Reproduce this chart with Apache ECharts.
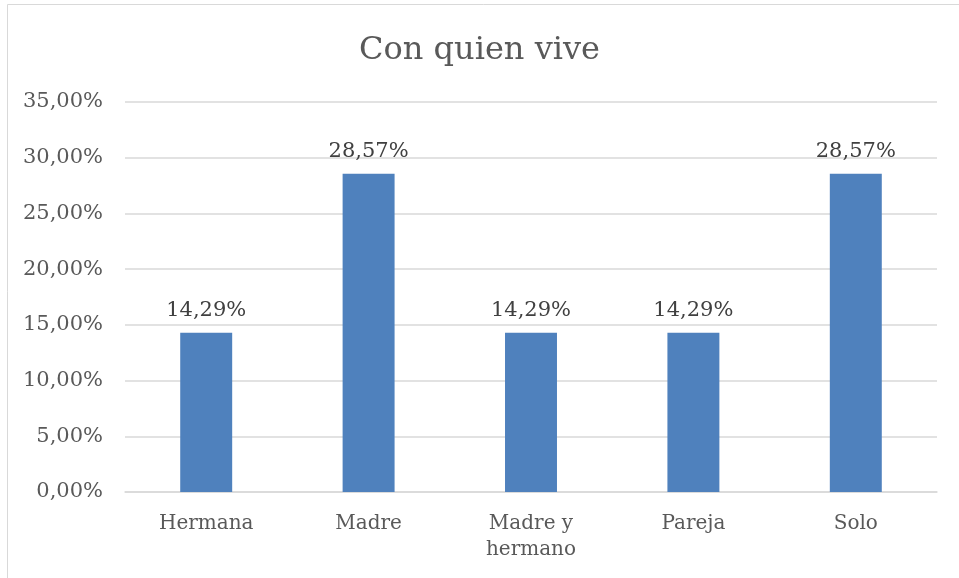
<!DOCTYPE html>
<html>
<head>
<meta charset="utf-8">
<script src="https://cdn.jsdelivr.net/npm/echarts@6/dist/echarts.min.js"></script>
<style>
  html, body { margin: 0; padding: 0; background: #fff; }
  #chart { width: 959px; height: 578px; }
</style>
</head>
<body>
<div id="chart"></div>
<script>
const categories = ['Hermana', 'Madre', 'Madre y\nhermano', 'Pareja', 'Solo']
const values = [14.29, 28.57, 14.29, 14.29, 28.57]

const fontFamily = '"DejaVu Serif", serif'
const myChart = echarts.init(document.getElementById('chart'))

const option = {
  backgroundColor: '#fff',
  animation: false,
  title: {
    text: 'Con quien vive',
    left: 'center',
    top: 30,
    textStyle: {
      fontFamily: fontFamily,
      fontSize: 32,
      fontWeight: 'normal',
      color: '#595959'
    }
  },
  graphic: [{
    type: 'rect',
    shape: { x: 7.5, y: 4.5, width: 960, height: 580 },
    style: { fill: 'none', stroke: '#d9d9d9', lineWidth: 1 }
  }],
  grid: {
    left: 125,
    right: 22,
    top: 102,
    bottom: 86
  },
  xAxis: {
    type: 'category',
    data: categories,
    axisLine: { lineStyle: { color: '#d9d9d9', width: 1.5 } },
    axisTick: { show: false },
    axisLabel: {
      fontFamily: fontFamily,
      fontSize: 20,
      color: '#595959',
      margin: 19,
      lineHeight: 26
    }
  },
  yAxis: {
    type: 'value',
    min: 0,
    max: 35,
    interval: 5,
    axisLine: { show: false },
    axisTick: { show: false },
    splitLine: { lineStyle: { color: '#d9d9d9', width: 1.5 } },
    axisLabel: {
      fontFamily: fontFamily,
      fontSize: 21,
      color: '#595959',
      margin: 22,
      formatter: function(v) {
        return v.toFixed(2).replace('.', ',') + '%'
      }
    }
  },
  series: [{
    type: 'bar',
    data: values,
    barWidth: '32%',
    itemStyle: { color: '#4f81bd' },
    label: {
      show: true,
      position: 'top',
      distance: 12,
      fontFamily: fontFamily,
      fontSize: 21,
      color: '#404040',
      formatter: function(p) {
        return p.value.toFixed(2).replace('.', ',') + '%'
      }
    }
  }]
}

myChart.setOption(option)
</script>
</body>
</html>
